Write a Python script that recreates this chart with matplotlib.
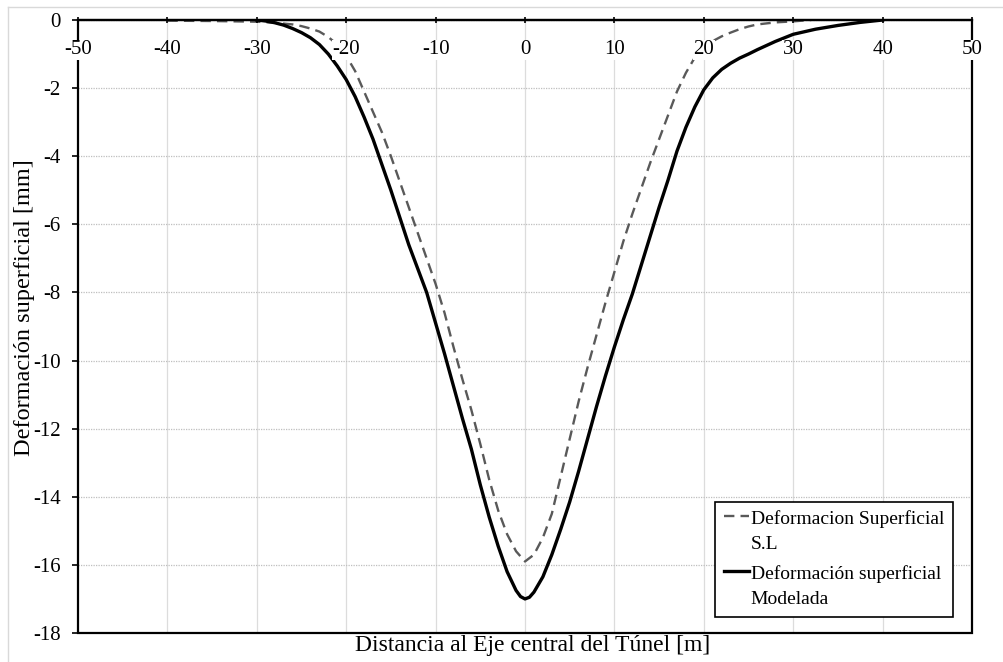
import matplotlib
matplotlib.use('Agg')
import matplotlib.pyplot as plt
from matplotlib.lines import Line2D
from matplotlib.patches import Rectangle

# ---- data ----
x_sl = [-40, -35, -30, -28, -26, -25, -24, -23, -22, -21, -20, -19, -18, -17, -16, -15, -14,
        -13, -12, -11, -10, -9, -8, -7, -6, -5, -4, -3, -2, -1, 0,
        1, 2, 3, 4, 5, 6, 7, 8, 9, 10, 11, 12, 13, 14, 15, 16, 17, 18, 19, 20,
        21, 22, 23, 24, 25, 26, 28, 30, 32]
y_sl = [-0.02, -0.03, -0.05, -0.08, -0.13, -0.18, -0.25, -0.34, -0.5, -0.72, -1.05, -1.5, -2.1, -2.7, -3.3, -4.0, -4.75,
        -5.5, -6.25, -7.0, -7.75, -8.6, -9.6, -10.55, -11.45, -12.45, -13.5, -14.4, -15.1, -15.6, -15.9,
        -15.7, -15.2, -14.5, -13.4, -12.3, -11.2, -10.2, -9.25, -8.3, -7.4, -6.5, -5.7, -4.95, -4.2, -3.5, -2.8, -2.1, -1.55, -1.1, -0.82,
        -0.62, -0.48, -0.37, -0.27, -0.19, -0.13, -0.07, -0.04, 0]

x_mod = [-30, -29, -28, -27, -26, -25, -24, -23, -22, -21, -20, -19, -18, -17, -16, -15, -14,
         -13, -12, -11, -10, -9, -8, -7, -6, -5, -4, -3, -2, -1, -0.5, 0,
         0.5, 1, 2, 3, 4, 5, 6, 7, 8, 9, 10, 11, 12, 13, 14, 15, 16, 17, 18, 19, 20,
         21, 22, 23, 24, 25, 26, 27, 28, 30, 32.5, 35, 37.5, 40]
y_mod = [0, -0.03, -0.08, -0.15, -0.25, -0.37, -0.52, -0.72, -1.0, -1.35, -1.75, -2.25, -2.85, -3.5, -4.25, -5.0, -5.8,
         -6.6, -7.3, -8.0, -8.9, -9.8, -10.75, -11.7, -12.6, -13.65, -14.6, -15.45, -16.2, -16.75, -16.93, -17.0,
         -16.95, -16.8, -16.35, -15.7, -14.95, -14.15, -13.25, -12.3, -11.35, -10.45, -9.6, -8.8, -8.05, -7.2, -6.35, -5.5, -4.7, -3.85, -3.15, -2.55, -2.05,
         -1.7, -1.45, -1.27, -1.12, -1.0, -0.87, -0.75, -0.63, -0.42, -0.27, -0.16, -0.07, 0]

x_ticks = [-50, -40, -30, -20, -10, 0, 10, 20, 30, 40, 50]
y_ticks = [0, -2, -4, -6, -8, -10, -12, -14, -16, -18]

label_sl = "Deformacion Superficial\nS.L"
label_mod = "Deformación superficial\nModelada"
xlabel = "Distancia al Eje central del Túnel [m]"
ylabel = "Deformación superficial [mm]"

# ---- style ----
plt.rcParams['font.family'] = ['Liberation Serif', 'DejaVu Serif']
plt.rcParams['axes.unicode_minus'] = False

W, H = 1004, 662
fig = plt.figure(figsize=(W / 100, H / 100), dpi=100)
L, R, T, B = 78, 972, 20, 633
ax = fig.add_axes([L / W, 1 - B / H, (R - L) / W, (B - T) / H])

# outer light border (chart area)
fig.add_artist(Line2D([8 / W, 8 / W], [0, 1 - 7 / H], transform=fig.transFigure, color='#d9d9d9', lw=1))
fig.add_artist(Line2D([8 / W, 1], [1 - 7 / H, 1 - 7 / H], transform=fig.transFigure, color='#d9d9d9', lw=1))

h_sl, = ax.plot(x_sl, y_sl, color='#595959', lw=1.7, dashes=(4.4, 2.6), label=label_sl, zorder=2,
                solid_joinstyle='round', dash_joinstyle='round')
h_mod, = ax.plot(x_mod, y_mod, color='black', lw=2.4, label=label_mod, zorder=2.2,
                 solid_joinstyle='round')

ax.set_xlim(x_ticks[0], x_ticks[-1])
ax.set_ylim(y_ticks[-1], y_ticks[0])
ax.set_xticks(x_ticks)
ax.set_yticks(y_ticks)
ax.set_xticklabels([str(v) for v in x_ticks])
ax.set_yticklabels([str(v) for v in y_ticks])

# grid
ax.yaxis.grid(True, linestyle=(0, (1, 1)), color='#bfbfbf', lw=0.9)
ax.xaxis.grid(False)
ax.vlines(x_ticks[1:-1], y_ticks[-1], y_ticks[0], color='#dcdcdc', lw=0.9, zorder=1)

# axes frame: x axis at y = 0 (top), box drawn around
for s in ['top', 'right', 'left']:
    ax.spines[s].set_visible(False)
ax.spines['bottom'].set_position(('data', 0))
ax.spines['bottom'].set_linewidth(1.6)
ax.add_patch(Rectangle((0, 0), 1, 1, transform=ax.transAxes, fill=False, lw=1.6,
                       ec='black', clip_on=False, zorder=4))
ax.xaxis.set_zorder(4.5)

ax.tick_params(axis='x', direction='inout', length=5, width=1.2, pad=12, labelsize=15)
ax.tick_params(axis='y', direction='out', length=4.5, width=1.2, pad=8, labelsize=15)
for lab in ax.get_xticklabels():
    lab.set_bbox(dict(facecolor='white', edgecolor='none', pad=0.5))

ax.set_xlabel(xlabel, fontsize=17)
ax.xaxis.set_label_coords(0.508, -0.004)
ax.set_ylabel(ylabel, fontsize=17.5, va='center')
ax.yaxis.set_label_coords(-0.060, 0.53)

fs_leg = 14
lsp = 1.6
leg = ax.legend(handles=[h_sl, h_mod], loc='lower right',
                bbox_to_anchor=((953 - L) / (R - L), (B - 617) / (B - T)),
                bbox_transform=ax.transAxes, borderaxespad=0, frameon=True,
                fancybox=False, edgecolor='black', framealpha=1, fontsize=fs_leg,
                handlelength=1.3, handletextpad=0.1, labelspacing=0.65, borderpad=0.45)
leg.get_frame().set_linewidth(1.2)
for t in leg.get_texts():
    t.set_linespacing(lsp)
for h in leg.legend_handles:
    h.set_ydata([v + 0.5 * lsp * fs_leg for v in h.get_ydata()])

fig.savefig('out.png', dpi=100)
